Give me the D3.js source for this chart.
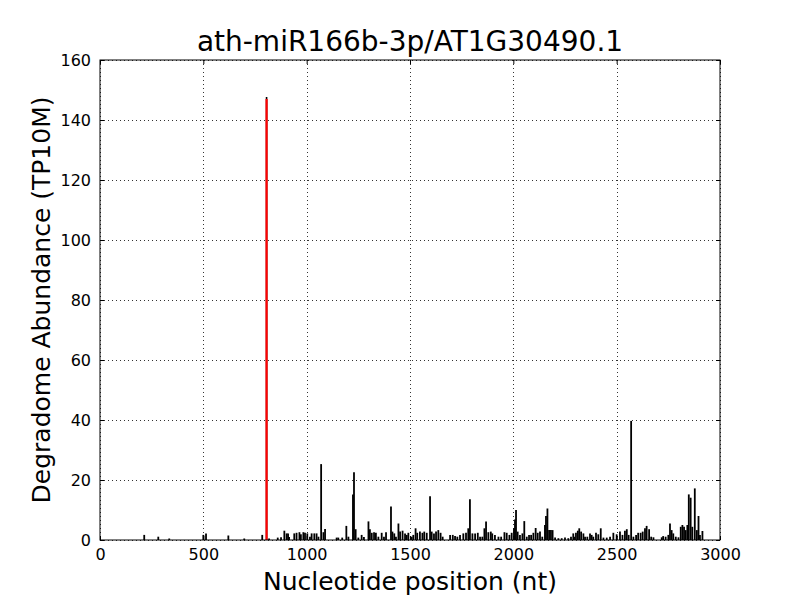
<!DOCTYPE html>
<html lang="en">
  <head>
    <meta charset="utf-8">
    <title>ath-miR166b-3p/AT1G30490.1</title>
    <script src="https://d3js.org/d3.v7.min.js"></script>
    <style>
      body { margin: 0; background: #ffffff; }
      text { font-family: "DejaVu Sans", sans-serif; fill: #000000; }
    </style>
  </head>
  <body>
    <div id="my_dataviz"></div>
    <script>

    // nucleotide positions of the degradome reads (nt)
    var positions = [
      214, 282, 335, 500, 513, 621, 698, 785, 818, 860, 876, 892, 903, 910, 915,
      940, 951, 965, 972, 984, 992, 1003, 1016, 1024, 1037, 1048, 1057, 1070, 1081, 1089,
      1145, 1153, 1172, 1192, 1202, 1224, 1229, 1237, 1250, 1266, 1277, 1299, 1306, 1315, 1326,
      1335, 1347, 1363, 1374, 1384, 1408, 1415, 1424, 1432, 1444, 1452, 1464, 1476, 1484, 1492,
      1508, 1516, 1527, 1535, 1548, 1560, 1569, 1581, 1597, 1605, 1616, 1626, 1637, 1648, 1658,
      1694, 1707, 1718, 1729, 1742, 1758, 1771, 1782, 1790, 1802, 1815, 1828, 1839, 1850, 1860,
      1868, 1879, 1891, 1898, 1911, 1928, 1941, 1957, 1968, 1981, 1992, 2003, 2008, 2013, 2021,
      2032, 2044, 2053, 2065, 2076, 2086, 2097, 2108, 2118, 2129, 2140, 2153, 2158, 2165, 2173,
      2182, 2190, 2202, 2218, 2234, 2250, 2266, 2279, 2290, 2294, 2303, 2312, 2319, 2328, 2339,
      2347, 2358, 2371, 2379, 2387, 2400, 2411, 2423, 2436, 2452, 2468, 2484, 2500, 2516, 2528,
      2540, 2549, 2558, 2570, 2581, 2594, 2604, 2616, 2626, 2637, 2645, 2657, 2667, 2678, 2718,
      2725, 2737, 2750, 2758, 2766, 2774, 2786, 2799, 2810, 2818, 2826, 2834, 2842, 2849, 2858,
      2866, 2878, 2888, 2896, 2903, 2915
    ];

    // abundance at each position (TP10M)
    var abundance = [
      1.7, 1.1, 0.5, 1.7, 2.2, 1.5, 0.5, 1.7, 0.5, 0.8, 0.9, 3.1, 2.2, 2.2, 1.0,
      2.2, 2.4, 2.6, 1.9, 2.6, 2.4, 2.2, 1.1, 2.2, 2.2, 2.2, 1.1, 25.3, 2.6, 3.7,
      0.8, 0.8, 0.8, 4.7, 1.1, 15.2, 22.6, 3.6, 0.8, 1.7, 1.0, 6.2, 3.6, 2.4, 2.6,
      2.4, 1.1, 2.4, 1.1, 2.6, 11.2, 2.8, 2.2, 1.1, 5.5, 2.8, 3.1, 2.2, 1.7, 2.4,
      1.1, 1.7, 3.9, 2.4, 2.8, 2.4, 2.8, 2.4, 14.6, 2.8, 2.2, 2.8, 3.3, 2.4, 1.1,
      1.7, 1.7, 1.3, 1.1, 1.7, 2.2, 2.4, 3.9, 13.6, 2.2, 2.2, 2.4, 1.1, 1.1, 3.9,
      6.2, 2.6, 2.8, 2.2, 1.7, 1.1, 1.1, 2.6, 2.4, 1.7, 2.4, 3.9, 6.8, 10.0, 2.8,
      1.7, 2.2, 6.3, 1.1, 1.7, 1.7, 2.4, 4.0, 2.4, 2.8, 1.1, 5.0, 8.0, 10.5, 3.3,
      3.3, 3.3, 0.8, 0.6, 0.6, 0.8, 0.6, 1.1, 2.2, 1.1, 2.4, 3.1, 3.9, 2.8, 2.2,
      1.1, 1.1, 2.2, 1.7, 1.1, 2.4, 1.9, 3.9, 0.8, 0.8, 1.1, 2.4, 1.9, 2.8, 1.7,
      3.1, 3.6, 1.7, 39.7, 1.1, 1.7, 2.4, 2.4, 2.8, 3.9, 4.7, 3.6, 1.1, 0.9, 0.9,
      1.3, 1.1, 1.7, 5.5, 3.3, 2.2, 1.1, 0.9, 4.4, 5.0, 4.4, 3.3, 5.0, 15.2, 14.1,
      4.4, 17.2, 3.3, 8.0, 1.7, 3.0
    ];

    // the miRNA target site (drawn in red)
    var targetPos = 806;
    var targetVal = 147;
    var targetPeak = 147.7;

    var xTicks = [0, 500, 1000, 1500, 2000, 2500, 3000];
    var yTicks = [0, 20, 40, 60, 80, 100, 120, 140, 160];

    var data = positions.map(function(p, i) { return {pos: p, val: abundance[i]}; });

    // set the dimensions and margins of the graph
    var margin = {top: 60, right: 80, bottom: 60, left: 100},
        width = 800 - margin.left - margin.right,
        height = 600 - margin.top - margin.bottom;

    var svg = d3.select("#my_dataviz")
      .append("svg")
        .attr("width", 800)
        .attr("height", 600)
      .append("g")
        .attr("transform", "translate(" + margin.left + "," + margin.top + ")");

    var x = d3.scaleLinear().domain([0, 3000]).range([0, width]);
    var y = d3.scaleLinear().domain([0, 160]).range([height, 0]);

    // dotted grid
    svg.append("g")
      .selectAll("line.vgrid")
      .data(xTicks)
      .enter().append("line")
        .attr("x1", function(d) { return Math.round(x(d)) + 0.5; })
        .attr("x2", function(d) { return Math.round(x(d)) + 0.5; })
        .attr("y1", 0).attr("y2", height)
        .style("stroke", "#000").style("stroke-width", 0.8)
        .style("stroke-dasharray", "1,3");
    svg.append("g")
      .selectAll("line.hgrid")
      .data(yTicks)
      .enter().append("line")
        .attr("y1", function(d) { return Math.round(y(d)) + 0.5; })
        .attr("y2", function(d) { return Math.round(y(d)) + 0.5; })
        .attr("x1", 0).attr("x2", width)
        .style("stroke", "#000").style("stroke-width", 0.8)
        .style("stroke-dasharray", "1,3");

    // degradome bars
    svg.append("g")
      .selectAll("line.bar")
      .data(data)
      .enter().append("line")
        .attr("x1", function(d) { return x(d.pos); })
        .attr("x2", function(d) { return x(d.pos); })
        .attr("y1", y(0))
        .attr("y2", function(d) { return y(d.val); })
        .style("stroke", "#000")
        .style("stroke-width", 1.8);

    // black read peak behind the target site, then the red target line
    svg.append("line")
      .attr("x1", x(targetPos)).attr("x2", x(targetPos))
      .attr("y1", y(0)).attr("y2", y(targetPeak))
      .style("stroke", "#000").style("stroke-width", 1.6);
    svg.append("line")
      .attr("x1", x(targetPos)).attr("x2", x(targetPos))
      .attr("y1", y(0)).attr("y2", y(targetVal))
      .style("stroke", "#ff0000").style("stroke-width", 2.2);

    // axes with inward ticks on all four sides
    var axisFont = "16px 'DejaVu Sans'";
    var fmt = d3.format("d");
    var axBottom = svg.append("g")
      .attr("transform", "translate(0," + height + ")")
      .call(d3.axisBottom(x).tickValues(xTicks).tickFormat(fmt).tickSizeInner(-4).tickSizeOuter(0).tickPadding(9));
    var axLeft = svg.append("g")
      .call(d3.axisLeft(y).tickValues(yTicks).tickFormat(fmt).tickSizeInner(-4).tickSizeOuter(0).tickPadding(9));
    var axTop = svg.append("g")
      .call(d3.axisTop(x).tickValues(xTicks).tickSizeInner(-4).tickSizeOuter(0).tickFormat(""));
    var axRight = svg.append("g")
      .attr("transform", "translate(" + width + ",0)")
      .call(d3.axisRight(y).tickValues(yTicks).tickSizeInner(-4).tickSizeOuter(0).tickFormat(""));
    [axBottom, axLeft, axTop, axRight].forEach(function(a) {
      a.select(".domain").remove();
      a.selectAll("text").style("font", axisFont).style("fill", "#000");
      a.selectAll("line").style("stroke", "#000");
    });

    // frame
    svg.append("rect")
      .attr("x", 0).attr("y", 0)
      .attr("width", width).attr("height", height)
      .style("fill", "none").style("stroke", "#000").style("stroke-width", 1);

    // title
    svg.append("text")
      .attr("x", width / 2)
      .attr("y", -9)
      .attr("text-anchor", "middle")
      .style("font-size", "28px")
      .text("ath-miR166b-3p/AT1G30490.1");

    // x axis label
    svg.append("text")
      .attr("x", width / 2)
      .attr("y", height + 50)
      .attr("text-anchor", "middle")
      .style("font-size", "25px")
      .text("Nucleotide position (nt)");

    // y axis label
    svg.append("text")
      .attr("transform", "rotate(-90)")
      .attr("x", -height / 2)
      .attr("y", -50)
      .attr("text-anchor", "middle")
      .style("font-size", "25px")
      .text("Degradome Abundance (TP10M)");

    </script>
  </body>
</html>
